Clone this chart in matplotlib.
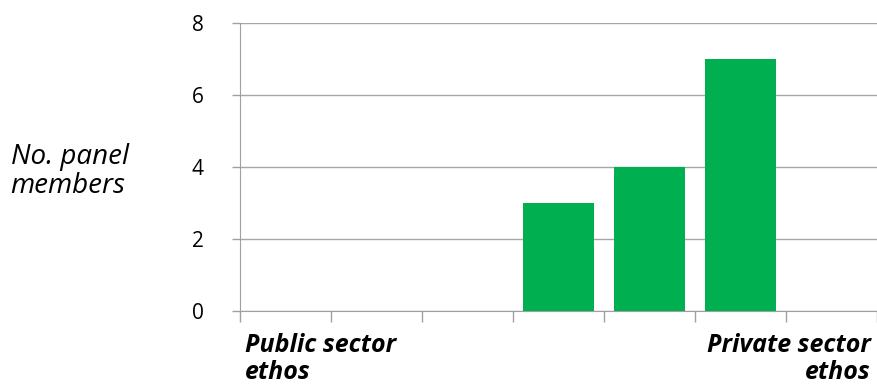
import matplotlib.pyplot as plt

# Number of panel members per position on the public-private ethos scale
positions = [1, 2, 3, 4, 5, 6, 7]
members = [0, 0, 0, 3, 4, 7, 0]
y_ticks = [0, 2, 4, 6, 8]

plt.rcParams['font.family'] = ['Open Sans', 'DejaVu Sans']

fig = plt.figure(figsize=(8.77, 3.85), dpi=100)
ax = fig.add_axes([0.2737, 0.192, 0.7263, 0.748])

ax.bar(positions, members, width=0.79, color='#00B050', zorder=3)

ax.set_xlim(0.5, 7.5)
ax.set_ylim(0, 8)
ax.set_yticks(y_ticks)
ax.set_yticklabels([str(t) for t in y_ticks], fontsize=15)

# category boundaries as tick marks
ax.set_xticks([p + 0.5 for p in [0] + positions])
ax.set_xticklabels([])
ax.tick_params(axis='x', length=8, color='#A0A0A0', width=1)
ax.tick_params(axis='y', length=6, color='#A0A0A0', width=1, pad=20)

ax.grid(axis='y', color='#A6A6A6', linewidth=1, zorder=0)
for side in ['top', 'right']:
    ax.spines[side].set_visible(False)
ax.spines['left'].set_color('#A0A0A0')
ax.spines['bottom'].set_color('#A0A0A0')

# end labels of the scale
fig.text(0.279, 0.135, 'Public sector\nethos', fontsize=18, fontweight='bold',
         fontstyle='italic', ha='left', va='top', linespacing=1.1)
fig.text(0.993, 0.135, 'Private sector\nethos', fontsize=18, fontweight='bold',
         fontstyle='italic', ha='right', va='top', linespacing=1.1, multialignment='right')

fig.text(0.012, 0.555, 'No. panel\nmembers', fontsize=20, fontstyle='italic',
         ha='left', va='center', linespacing=1.05)

fig.savefig('out.png', dpi=100)
